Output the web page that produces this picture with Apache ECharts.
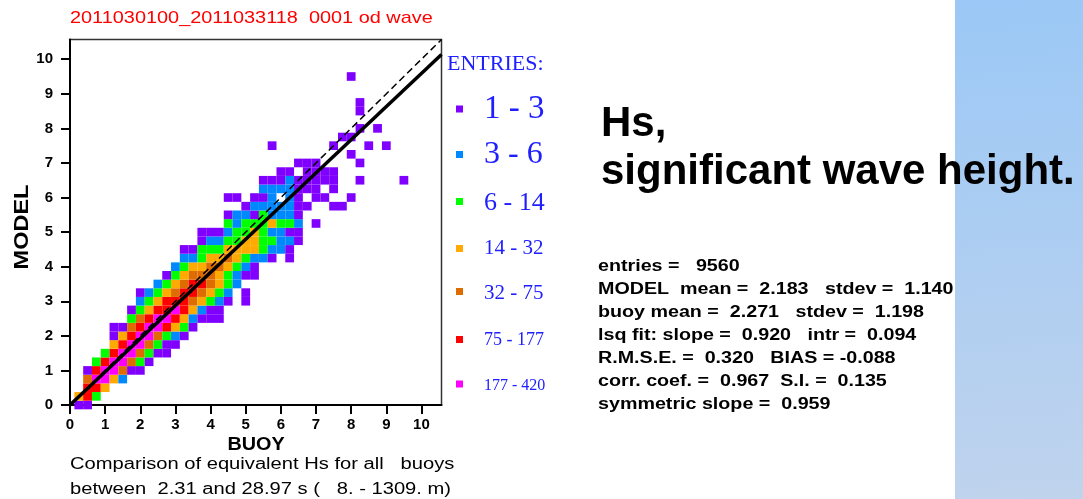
<!DOCTYPE html>
<html>
<head>
<meta charset="utf-8">
<script src="https://cdn.jsdelivr.net/npm/echarts@6/dist/echarts.min.js"></script>
<style>
  html, body { margin: 0; padding: 0; background: #fff; }
  #chart { width: 1083px; height: 499px; }
</style>
</head>
<body>
<div id="chart"></div>
<script>
// Hs scatter: model vs buoy, binned counts on a 0.25 m grid
const title = "2011030100_2011033118  0001 od wave";
const subtitleLines = [
  "Comparison of equivalent Hs for all   buoys",
  "between  2.31 and 28.97 s (   8. - 1309. m)"
];
const headingLines = ["Hs,", "significant wave height."];
const statsLines = [
  "entries =   9560",
  "MODEL  mean =  2.183   stdev =  1.140",
  "buoy mean =  2.271   stdev =  1.198",
  "lsq fit: slope =  0.920   intr =  0.094",
  "R.M.S.E. =  0.320   BIAS = -0.088",
  "corr. coef. =  0.967  S.I. =  0.135",
  "symmetric slope =  0.959"
];
const symmetricSlope = 0.959;
const tickValues = [0, 1, 2, 3, 4, 5, 6, 7, 8, 9, 10];
const axisMax = 10.57;
const binSize = 0.25;

// entry classes, lowest first
const classLabels = ["1 - 3", "3 - 6", "6 - 14", "14 - 32", "32 - 75", "75 - 177", "177 - 420"];
const classColors = ["#8000ff", "#0088ff", "#00ff00", "#ffaa00", "#de6c00", "#ff0000", "#ff00ff"];

// rows of bins: [model bin index, first buoy bin index, class codes ('.' = no entries)]
const cellRows = [
  [0, 1, "11"],
  [1, 1, "463"],
  [2, 2, "664"],
  [3, 2, "57742"],
  [4, 2, "1677511"],
  [5, 3, "3677531"],
  [6, 4, "36775311"],
  [7, 5, "46775311"],
  [8, 5, "146775321"],
  [9, 5, "1156776431"],
  [10, 7, "35677642111"],
  [11, 7, "13466764211"],
  [12, 8, "23466654321.1"],
  [13, 8, "12345665432.1"],
  [14, 10, "2345665432"],
  [15, 11, "13455543211"],
  [16, 12, "2344554321"],
  [17, 13, "22344543221.1"],
  [18, 13, "1133344443221"],
  [19, 15, "122334433221"],
  [20, 15, "111233432211"],
  [21, 18, "323334332.1"],
  [22, 18, "122132221"],
  [23, 20, "12222211..11"],
  [24, 18, "11.112.21.11..1"],
  [25, 22, "2222111.1"],
  [26, 22, "111211111..1....1"],
  [27, 24, "11.1111"],
  [28, 26, "111....1"],
  [29, 32, "1"],
  [30, 23, "1......1...1.1"],
  [31, 31, "11"],
  [32, 33, "1.1"],
  [34, 33, "1"],
  [35, 33, "1"],
  [38, 32, "1"]
];

const cells = [];
cellRows.forEach(([j, k0, codes]) => {
  for (let i = 0; i < codes.length; i++) {
    const c = codes[i];
    if (c !== '.') cells.push([(k0 + i) * binSize, j * binSize, Number(c)]);
  }
});

const chart = echarts.init(document.getElementById('chart'), null, { renderer: 'canvas' });

const sans = '"Liberation Sans", Arial, Helvetica, sans-serif';
const serif = '"Liberation Serif", "Times New Roman", serif';

function axisCfg(isY) {
  return {
    type: 'value', min: 0, max: axisMax, interval: 1,
    axisLine: { show: true, onZero: false, lineStyle: { color: '#000', width: 2 } },
    axisTick: { show: true, length: 9, customValues: tickValues, lineStyle: { color: '#000', width: 2 } },
    axisLabel: { customValues: tickValues, color: '#000', fontWeight: 'bold', fontSize: 15,
                 fontFamily: sans, margin: isY ? 17 : 12 },
    splitLine: { show: false }
  };
}

const graphics = [];
// shaded panel at the right edge
graphics.push({
  type: 'rect', z: 0, silent: true,
  shape: { x: 955, y: 0, width: 128, height: 499 },
  style: { fill: new echarts.graphic.LinearGradient(0, 0, 0.25, 1, [
    { offset: 0, color: '#9bc8f6' }, { offset: 1, color: '#bfd3ed' }]) }
});
graphics.push({ type: 'text', z: 10, x: 70, y: 27, scaleX: 1.17,
  style: { text: title, font: '17px ' + sans, fill: '#ff0000', textVerticalAlign: 'bottom' } });
subtitleLines.forEach((t, i) => graphics.push({ type: 'text', z: 10, x: 70, y: 473 + i * 25, scaleX: 1.26,
  style: { text: t, font: '16px ' + sans, fill: '#000', textVerticalAlign: 'bottom' } }));
graphics.push({ type: 'text', z: 10, x: 256, y: 454, scaleX: 1.1,
  style: { text: 'BUOY', font: 'bold 18px ' + sans, fill: '#000', textAlign: 'center', textVerticalAlign: 'bottom' } });
graphics.push({ type: 'text', z: 10, x: 33, y: 227, rotation: Math.PI / 2, scaleX: 1.12,
  style: { text: 'MODEL', font: 'bold 21px ' + sans, fill: '#000', textAlign: 'center', textVerticalAlign: 'bottom' } });
headingLines.forEach((t, i) => graphics.push({ type: 'text', z: 10, x: 601, y: 145 + i * 48,
  style: { text: t, font: 'bold 42px ' + sans, fill: '#000', textVerticalAlign: 'bottom' } }));
statsLines.forEach((t, i) => graphics.push({ type: 'text', z: 10, x: 598, y: 275 + i * 23, scaleX: 1.23,
  style: { text: t, font: 'bold 16px ' + sans, fill: '#000', textVerticalAlign: 'bottom' } }));

// legend of entry classes
graphics.push({ type: 'text', z: 10, x: 447, y: 75,
  style: { text: 'ENTRIES:', font: '22px ' + serif, fill: '#2020ff', textVerticalAlign: 'bottom' } });
const legendBase = [126, 171, 216, 259, 304, 349, 394];
const legendSize = [33, 32, 26, 21, 21, 18, 16];
const swatchMid = [109, 154.5, 201.5, 248.5, 291.5, 339.5, 384];
classLabels.forEach((lab, i) => {
  graphics.push({ type: 'rect', z: 10, shape: { x: 456, y: swatchMid[i] - 3.5, width: 7, height: 7 },
    style: { fill: classColors[i] } });
  graphics.push({ type: 'text', z: 10, x: 484, y: legendBase[i],
    style: { text: lab, font: legendSize[i] + 'px ' + serif, fill: '#2020ff', textVerticalAlign: 'bottom' } });
});

const half = binSize / 2;
chart.setOption({
  animation: false,
  backgroundColor: '#fff',
  grid: { left: 70, top: 39.5, right: 1083 - 441.5, bottom: 499 - 405, show: true,
          borderColor: '#333', borderWidth: 1.5, backgroundColor: 'transparent' },
  xAxis: axisCfg(false),
  yAxis: axisCfg(true),
  graphic: graphics,
  series: [
    {
      type: 'custom', clip: false, z: 2,
      data: cells,
      encode: { x: 0, y: 1 },
      renderItem: function (params, api) {
        const x = api.value(0), y = api.value(1);
        const p0 = api.coord([x - half, y + half]);
        const p1 = api.coord([x + half, y - half]);
        return { type: 'rect',
          shape: { x: p0[0], y: p0[1], width: p1[0] - p0[0], height: p1[1] - p0[1] },
          style: { fill: classColors[api.value(2) - 1] } };
      }
    },
    {
      type: 'line', z: 4, showSymbol: false, silent: true,
      data: [[0, 0], [axisMax, axisMax]],
      lineStyle: { color: '#000', width: 1.5, type: [7, 4] }
    },
    {
      type: 'line', z: 5, showSymbol: false, silent: true,
      data: [[0, 0], [axisMax, axisMax * symmetricSlope]],
      lineStyle: { color: '#000', width: 3.5 }
    }
  ]
});
</script>
</body>
</html>
